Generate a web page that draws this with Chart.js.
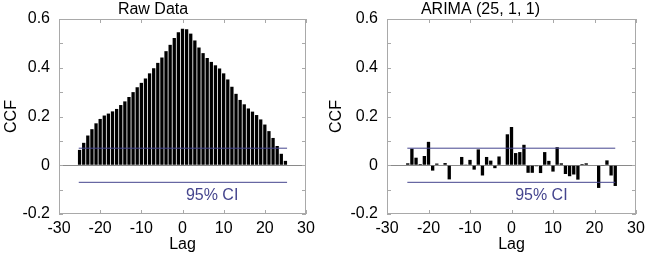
<!DOCTYPE html>
<html>
<head>
<meta charset="utf-8">
<script src="https://cdn.jsdelivr.net/npm/chart.js@4/dist/chart.umd.min.js"></script>
<style>
  html, body { margin: 0; padding: 0; background: #fff; }
  #wrap { position: relative; width: 649px; height: 254px; }
  canvas { position: absolute; top: 0; }
  #raw { left: 0; }
  #arima { left: 325px; }
</style>
</head>
<body>
<div id="wrap">
  <canvas id="raw" width="325" height="254"></canvas>
  <canvas id="arima" width="324" height="254"></canvas>
</div>
<script>
// lags shown on both panels
const lags = [-25, -24, -23, -22, -21, -20, -19, -18, -17, -16, -15, -14, -13, -12, -11, -10, -9, -8, -7, -6, -5, -4, -3, -2, -1,
  0, 1, 2, 3, 4, 5, 6, 7, 8, 9, 10, 11, 12, 13, 14, 15, 16, 17, 18, 19, 20, 21, 22, 23, 24, 25];

// cross-correlation, raw series
const rawCcf = [0.063, 0.092, 0.122, 0.148, 0.172, 0.19, 0.204, 0.212, 0.221, 0.231, 0.247, 0.262, 0.28, 0.3, 0.32, 0.338, 0.356, 0.377, 0.398, 0.42, 0.442, 0.468, 0.494, 0.522, 0.546, 0.56,
  0.558, 0.54, 0.512, 0.483, 0.46, 0.44, 0.424, 0.41, 0.397, 0.377, 0.352, 0.322, 0.293, 0.268, 0.25, 0.233, 0.22, 0.206, 0.188, 0.167, 0.14, 0.112, 0.079, 0.047, 0.018];

// cross-correlation, ARIMA residuals
const arimaCcf = [0.008, 0.068, 0.031, 0.005, 0.038, 0.096, -0.022, 0.007, 0.002, 0.009, -0.058, 0, 0, 0.034, 0.001, 0.022, -0.018, 0.065, -0.042, 0.034, 0.019, -0.012, 0.036, 0, 0.127,
  0.157, 0.05, 0.054, 0.084, -0.031, -0.031, -0.004, -0.032, 0.054, 0.018, -0.026, 0.074, 0.008, -0.036, -0.045, -0.038, -0.059, 0.005, 0.008, 0.002, -0.002, -0.093, -0.003, 0.02, -0.042, -0.085];

const ciLevel = 0.07;
const ciSpanRaw = [-25.2, 25.4];
const ciSpanArima = [-25.1, 25];
const ciText = '95% CI';
const ciTextPos = [7.2, -0.126];

Chart.defaults.font.family = '"Liberation Sans", Arial, sans-serif';
Chart.defaults.font.size = 16;
Chart.defaults.color = '#000';

const frameColor = '#a9a9a9';
const ciColor = '#45458e';

// box around the plot, inward ticks on all four sides, CI label
const framePlugin = {
  id: 'frame',
  afterDatasetsDraw(chart) {
    const { ctx, chartArea: a, scales: { x, y } } = chart;
    ctx.save();
    ctx.strokeStyle = frameColor;
    ctx.lineWidth = 1;
    ctx.strokeRect(a.left + 0.5, a.top + 0.5, a.right - a.left - 1, a.bottom - a.top - 1);
    ctx.beginPath();
    x.ticks.forEach(t => {
      const px = Math.round(x.getPixelForValue(t.value)) + 0.5;
      ctx.moveTo(px, a.top); ctx.lineTo(px, a.top + 4);
      ctx.moveTo(px, a.bottom); ctx.lineTo(px, a.bottom - 4);
    });
    y.ticks.forEach(t => {
      const py = Math.round(y.getPixelForValue(t.value)) + 0.5;
      ctx.moveTo(a.left, py); ctx.lineTo(a.left + 4, py);
      ctx.moveTo(a.right, py); ctx.lineTo(a.right - 4, py);
    });
    ctx.stroke();
    ctx.fillStyle = ciColor;
    ctx.font = '16px "Liberation Sans", Arial, sans-serif';
    ctx.textAlign = 'center';
    ctx.textBaseline = 'middle';
    ctx.fillText(ciText, x.getPixelForValue(ciTextPos[0]), y.getPixelForValue(ciTextPos[1]));
    ctx.restore();
  }
};

function ciLine(level, span) {
  return {
    type: 'line',
    data: [{ x: span[0], y: level }, { x: span[1], y: level }],
    borderColor: ciColor,
    borderWidth: 1,
    pointRadius: 0,
    order: 0
  };
}

function makeChart(id, title, values, ciSpan, padRight, yWidth) {
  return new Chart(document.getElementById(id), {
    type: 'bar',
    data: {
      datasets: [
        {
          data: lags.map((l, i) => ({ x: l, y: values[i] })),
          backgroundColor: '#000',
          barPercentage: 0.8,
          categoryPercentage: 1,
          order: 1
        },
        ciLine(ciLevel, ciSpan),
        ciLine(-ciLevel, ciSpan)
      ]
    },
    options: {
      responsive: false,
      animation: false,
      layout: { padding: { left: 0, right: padRight, top: 0, bottom: 0 } },
      plugins: {
        legend: { display: false },
        tooltip: { enabled: false },
        title: {
          display: true,
          text: title,
          color: '#000',
          font: { size: 16, weight: 'normal', lineHeight: 1 },
          padding: { top: 2, bottom: 1 }
        }
      },
      scales: {
        x: {
          type: 'linear',
          min: -30,
          max: 30,
          offset: false,
          grid: { display: false },
          border: { display: false },
          ticks: { stepSize: 10, padding: -3, maxRotation: 0 },
          title: { display: true, text: 'Lag', padding: { top: 0, bottom: 0 } },
          afterFit(s) { s.height = 40; }
        },
        y: {
          min: -0.2,
          max: 0.6,
          grid: {
            drawTicks: false,
            color: c => (c.tick && Math.abs(c.tick.value) < 1e-9 ? '#8a8a8a' : 'rgba(0,0,0,0)')
          },
          border: { display: false },
          ticks: {
            stepSize: 0.1,
            padding: 9,
            callback: v => (Math.round(v * 10) % 2 === 0 ? String(+v.toFixed(1)) : '')
          },
          title: { display: true, text: 'CCF', padding: { top: 2, bottom: 0 } },
          afterFit(s) { s.width = yWidth; }
        }
      }
    },
    plugins: [framePlugin]
  });
}

makeChart('raw', 'Raw Data', rawCcf, ciSpanRaw, 19, 59);
makeChart('arima', 'ARIMA (25, 1, 1)', arimaCcf, ciSpanArima, 13, 62);
</script>
</body>
</html>
